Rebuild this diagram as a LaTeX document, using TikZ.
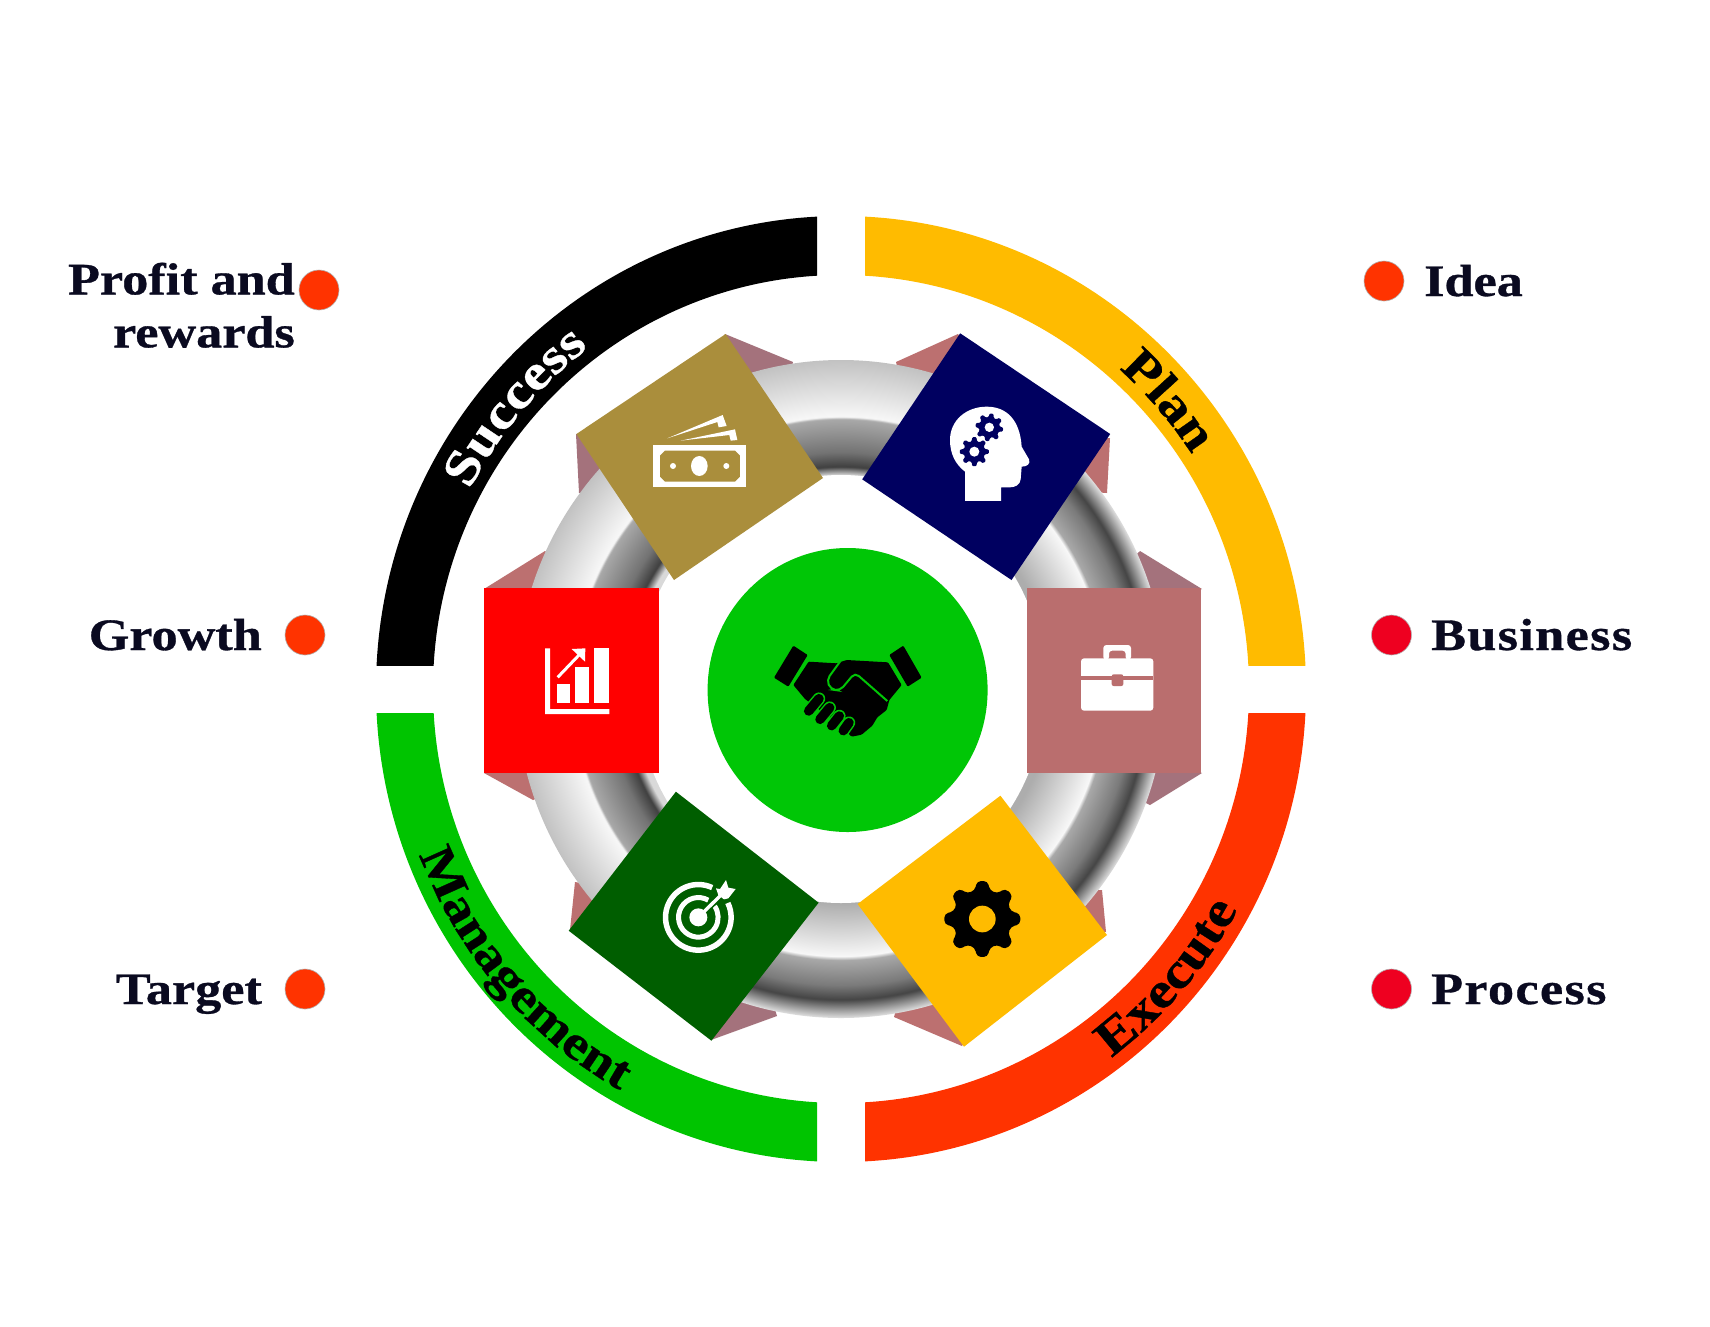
\documentclass[tikz,border=0pt]{standalone}
\usepackage{fontspec}
\usetikzlibrary{decorations.text}
\newfontfamily\lab[UprightFont=* Bold,FakeStretch=1.16,FakeBold=0.7]{Liberation Serif}
\newfontfamily\labsp[UprightFont=* Bold,FakeStretch=1.16,FakeBold=0.7,LetterSpace=3]{Liberation Serif}
\newcommand\labf{\lab\fontsize{45}{53}\selectfont}
\newcommand\labs{\labsp\fontsize{45}{53}\selectfont}
\newcommand\arcf{\lab\fontsize{50}{60}\selectfont}
\newcommand\arcm{\lab\fontsize{48.5}{60}\selectfont}
\definecolor{txt}{HTML}{0A0A20}
\definecolor{bandamber}{HTML}{FFBB00}
\definecolor{bandred}{HTML}{FF3300}
\definecolor{bandgreen}{HTML}{00C400}
\definecolor{discgreen}{HTML}{00C606}
\definecolor{sqgold}{HTML}{AA8E3C}
\definecolor{sqnavy}{HTML}{000060}
\definecolor{sqred}{HTML}{FF0000}
\definecolor{sqrose}{HTML}{BA6E6E}
\definecolor{sqdark}{HTML}{005E00}
\definecolor{pinka}{HTML}{A4727C}
\definecolor{pinkb}{HTML}{BC7070}
\definecolor{dotred}{HTML}{EE0020}
\pgfdeclareradialshading{ringA}{\pgfpointorigin}{%
 rgb(0bp)=(.85,.85,.85);rgb(16.26bp)=(.85,.85,.85);rgb(16.9bp)=(.25,.25,.25);rgb(18bp)=(.45,.45,.45);
 rgb(20.5bp)=(.66,.66,.66);rgb(20.7bp)=(.97,.97,.97);rgb(25bp)=(.76,.76,.76);rgb(50bp)=(.76,.76,.76)}
\pgfdeclareradialshading{ringB}{\pgfpointorigin}{%
 rgb(0bp)=(.68,.68,.68);rgb(16.26bp)=(.68,.68,.68);rgb(20.3bp)=(.97,.97,.97);
 rgb(20.6bp)=(.66,.66,.66);rgb(22.5bp)=(.48,.48,.48);rgb(23.6bp)=(.27,.27,.27);rgb(25bp)=(.88,.88,.88);rgb(50bp)=(.88,.88,.88)}
\newcommand\cog[7]{\begin{scope}[shift={(#1,#2)}]
 \fill[#6,rounded corners=#7] ({#5-22.5}:#4) \foreach \i [evaluate=\i as \a using #5+\i*45] in {0,...,7}{ -- ({\a-15}:#4) -- ({\a-8}:#3) -- ({\a+8}:#3) -- ({\a+15}:#4) -- ({\a+22.5}:#4)};
\end{scope}}
\newcommand\quarter[5]{\begin{scope}\clip (#1,#2) rectangle (#3,#4);
 \fill[#5,even odd rule] (C) ellipse[x radius=465pt,y radius=473pt] (C) ellipse[x radius=408pt,y radius=414pt];\end{scope}}
\tikzset{
 dot/.style={circle,minimum size=40pt,inner sep=0pt,draw=gray!60,line width=.6pt},
 labe/.style={font=\labf,text=txt,inner sep=0pt,anchor=base east},
 labw/.style={font=\labf,text=txt,inner sep=0pt,anchor=base west},
 labx/.style={font=\labs,text=txt,inner sep=0pt,anchor=base west},
 zoomed/.style={x=.3333pt,y=-.3333pt}
}
\begin{document}
\begin{tikzpicture}[x=1pt,y=-1pt]
\useasboundingbox (0,0) rectangle (1710,1326);
\fill[white] (0,0) rectangle (1710,1326);
\coordinate (C) at (841,689);
% outer bands
\quarter{300}{150}{817}{665}{black}
\quarter{865}{150}{1400}{665}{bandamber}
\quarter{865}{713}{1400}{1200}{bandred}
\quarter{300}{713}{817}{1200}{bandgreen}
% pink shapes behind the squares
\fill[pinka] (725,334) -- (793,362) -- (780,420) -- (700,380) -- cycle;
\fill[pinka] (576,434) -- (579,493) -- (620,490) -- (610,440) -- cycle;
\fill[pinkb] (958,334) -- (896,362) -- (910,420) -- (990,380) -- cycle;
\fill[pinkb] (1110,438) -- (1107,493) -- (1060,490) -- (1070,440) -- cycle;
\fill[pinkb] (484,589) -- (545,551) -- (590,590) -- (560,620) -- cycle;
\fill[pinkb] (484,773) -- (533,800) -- (580,780) -- (560,750) -- cycle;
\fill[pinka] (1202,589) -- (1140,551) -- (1100,590) -- (1130,620) -- cycle;
\fill[pinka] (1202,773) -- (1150,805) -- (1100,780) -- (1130,750) -- cycle;
\fill[pinka] (711,1040) -- (777,1016) -- (760,960) -- (680,1000) -- cycle;
\fill[pinkb] (570,930) -- (575,882) -- (620,890) -- (620,930) -- cycle;
\fill[pinkb] (962,1046) -- (894,1017) -- (910,960) -- (990,1000) -- cycle;
\fill[pinkb] (1106,932) -- (1102,890) -- (1060,890) -- (1060,930) -- cycle;
% grey ring, two halves
\begin{scope}\clip (1276,-10) -- (0,-10) -- (0,1388) -- (406,1388) -- cycle;
 \shade[shading=ringA] (C) ellipse[x radius=325pt,y radius=329pt];
\end{scope}
\begin{scope}\clip (1276,-10) -- (1710,-10) -- (1710,1388) -- (406,1388) -- cycle;
 \shade[shading=ringB] (C) ellipse[x radius=325pt,y radius=329pt];
\end{scope}
\fill[white] (C) ellipse[x radius=204pt,y radius=214pt];
% squares
\fill[sqgold] (725.6,334) -- (576.4,434) -- (674,580) -- (823,478) -- cycle;
\fill[sqnavy] (960.2,333.3) -- (1110.2,434) -- (1011.5,580) -- (862.2,479.3) -- cycle;
\fill[sqred] (483.6,588.3) rectangle (659,773.3);
\fill[sqrose] (1026.5,588) rectangle (1201,773);
\fill[sqdark] (675.9,791.7) -- (818.6,902.7) -- (711.4,1040.7) -- (568.7,930.7) -- cycle;
\fill[bandamber] (1000.4,795.7) -- (1107,935) -- (964,1046.7) -- (857.6,904) -- cycle;
% head icon
\begin{scope}[shift={(930,390)},zoomed]
 \fill[white] (105,333) -- (105,245) .. controls (75,222) and (60,190) .. (60,150)
  .. controls (60,90) and (110,50) .. (170,50) .. controls (230,50) and (270,90) .. (275,170)
  -- (297,208) .. controls (303,222) and (290,230) .. (275,230) -- (272,268)
  .. controls (270,285) and (255,292) .. (240,292) -- (213,292) -- (213,333) -- cycle;
 \cog{178}{112}{42}{31}{10}{sqnavy}{1pt}
 \cog{133}{185}{44}{32}{0}{sqnavy}{1pt}
 \fill[white] (178,112) circle[radius=14];
 \fill[white] (133,185) circle[radius=15];
\end{scope}
% money icon
\begin{scope}[shift={(640,400)},zoomed]
 \fill[white] (82,115) -- (248,45) -- (260,78) -- (236,82) -- (232,66) -- cycle;
 \fill[white] (122,122) -- (285,88) -- (292,120) -- (272,122) -- (268,105) -- cycle;
 \fill[white] (40,135) rectangle (318,262);
 \fill[sqgold] (75,152) -- (285,152) -- (300,167) -- (300,230) -- (285,245) -- (75,245) -- (60,230) -- (60,167) -- cycle;
 \fill[white] (178,198) ellipse[x radius=25,y radius=30];
 \fill[white] (99,198) circle[radius=9];
 \fill[white] (259,198) circle[radius=9];
\end{scope}
% chart icon
\begin{scope}[shift={(530,630)},zoomed]
 \fill[white] (45,55) -- (60,55) -- (60,237) -- (238,237) -- (238,252) -- (45,252) -- cycle;
 \fill[white] (80,163) rectangle (120,218);
 \fill[white] (136,112) rectangle (178,218);
 \fill[white] (192,55) rectangle (238,218);
 \draw[white,line width=3pt] (83,142) -- (150,72);
 \fill[white] (166,55) -- (125,57) -- (165,95) -- cycle;
\end{scope}
% briefcase icon
\begin{scope}[shift={(1060,630)},zoomed]
 \fill[white,even odd rule,rounded corners=3pt] (130,90) -- (130,45) -- (213,45) -- (213,90) -- (197,90) -- (197,62) -- (147,62) -- (147,90) -- cycle;
 \fill[white,rounded corners=3pt] (63,85) rectangle (280,242);
 \fill[sqrose] (63,138) rectangle (280,150);
 \fill[sqrose,rounded corners=2pt] (155,133) rectangle (190,168);
\end{scope}
% target icon
\begin{scope}[shift={(650,865)},zoomed]
 \coordinate (tc) at (145,157);
 \draw[white,line width=5.5pt] ([shift={(65:32.8pt)}]tc) arc[start angle=65,end angle=386,radius=32.8pt];
 \draw[white,line width=5pt] ([shift={(60:19.8pt)}]tc) arc[start angle=60,end angle=395,radius=19.8pt];
 \draw[sqdark,line width=7pt] (165,137) -- (225,77);
 \fill[white] (tc) circle[radius=27];
 \draw[white,line width=3.4pt] (tc) -- (215,88);
 \fill[white] (205,90) -- (198,70) -- (210,72) -- (228,45) -- (235,68) -- (257,72) -- (235,100) -- (222,103) -- cycle;
\end{scope}
% gear icon
\begin{scope}[shift={(930,870)},zoomed]
 \cog{157}{147}{115}{88}{90}{black}{4pt}
 \fill[bandamber] (157,147) circle[radius=40];
\end{scope}
% centre disc
\fill[discgreen] (847.6,690) ellipse[x radius=140pt,y radius=142pt];
% handshake icon
\begin{scope}[shift={(760,630)},zoomed]
 \fill[black,rounded corners=1pt] (100,47) -- (143,75) -- (85,170) -- (42,143) -- cycle;
 \fill[black,rounded corners=1pt] (430,47) -- (388,75) -- (443,170) -- (485,143) -- cycle;
 \fill[black,rounded corners=1pt] (146,95) -- (230,100) -- (260,90) -- (384,97) -- (425,165) -- (388,210) -- (380,240) -- (352,262) -- (337,287) -- (305,314) -- (275,320) -- (240,285) -- (135,207) -- (100,165) -- cycle;
 \draw[discgreen,line width=2pt,rounded corners=5pt] (240,95) -- (200,150) -- (212,178) -- (240,182) -- (285,128) -- (382,213);
 \foreach \ax/\ay/\bx/\by in {177/206/146/243,209/233/180/268,238/258/215/287,267/278/250/302}{
  \draw[discgreen,line width=12.5pt,line cap=round] (\ax,\ay) -- (\bx,\by);
  \draw[black,line width=9.5pt,line cap=round] (\ax,\ay) -- (\bx,\by);
 }
\end{scope}
% band texts
\coordinate (s1) at ([shift={(162:420pt and 427pt)}]C);
\path[decorate,decoration={text along path,text align={center},text={|\arcf\color{white}|Success}}]
 (s1) arc[start angle=162,end angle=117,x radius=420pt,y radius=427pt];
\coordinate (s2) at ([shift={(62:420pt and 427pt)}]C);
\path[decorate,decoration={text along path,text align={center},text={|\arcf\color{black}|Plan}}]
 (s2) arc[start angle=62,end angle=20,x radius=420pt,y radius=427pt];
\coordinate (s3) at ([shift={(296:452pt and 460pt)}]C);
\path[decorate,decoration={text along path,text align={center},text={|\arcf\color{black}|Execute}}]
 (s3) arc[start angle=296,end angle=342,x radius=452pt,y radius=460pt];
\coordinate (s4) at ([shift={(192:452pt and 460pt)}]C);
\path[decorate,decoration={text along path,text align={center},text={|\arcm\color{black}|Management}}]
 (s4) arc[start angle=192,end angle=250,x radius=452pt,y radius=460pt];
% side labels
\node[labe,align=right,anchor=south east] (lprofit) at (295,348) {Profit and\\rewards};
\node[labe] (lgrowth) at (262,650) {Growth};
\node[labe] (ltarget) at (262,1004) {Target};
\node[labw] (lidea) at (1424,296) {Idea};
\node[labx] (lbusiness) at (1431,650) {Business};
\node[labx] (lprocess) at (1431,1004) {Process};
\node[dot,fill=bandred] (dprofit) at (319,290) {};
\node[dot,fill=bandred] (dgrowth) at (305,635) {};
\node[dot,fill=bandred] (dtarget) at (305,989) {};
\node[dot,fill=bandred] (didea) at (1384,281) {};
\node[dot,fill=dotred] (dbusiness) at (1391.5,635) {};
\node[dot,fill=dotred] (dprocess) at (1391.5,989) {};
\end{tikzpicture}
\end{document}
